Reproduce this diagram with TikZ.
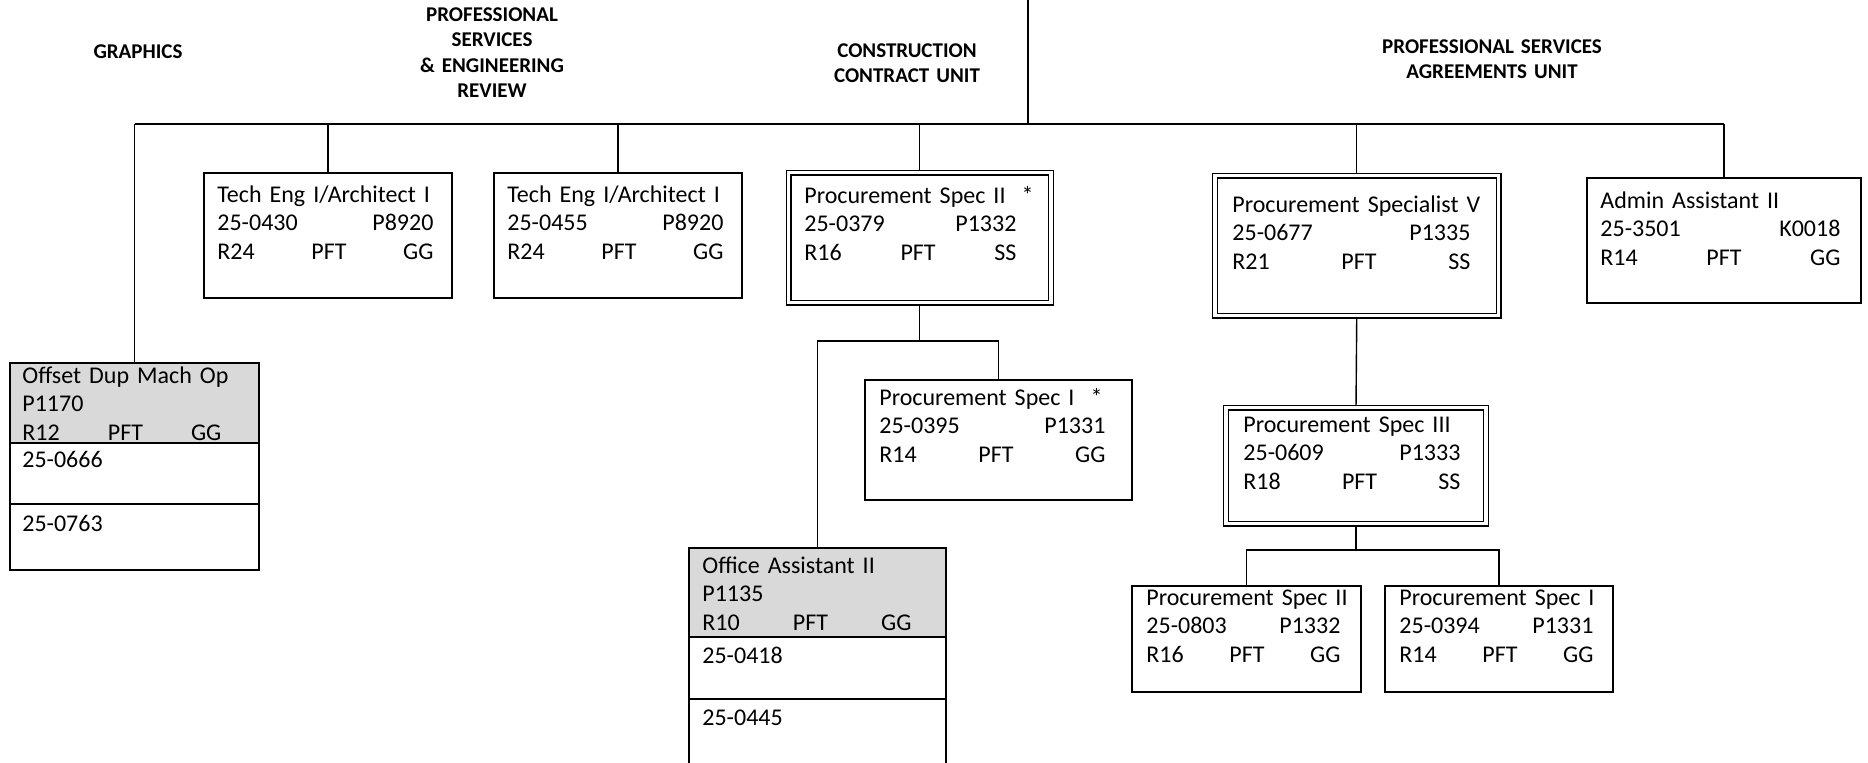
\documentclass[tikz,border=0pt]{standalone}
\usepackage{fontspec}
\setmainfont{Carlito}
\usetikzlibrary{positioning,backgrounds}
\definecolor{headgray}{RGB}{217,217,217}
\tikzset{
  pbox/.style={draw, rectangle, anchor=north west, inner sep=0pt, outer sep=0pt, line width=0.7pt, fill=white},
  dbox/.style={pbox, double, double distance=1.8pt, line width=0.6pt},
  ptext/.style={anchor=base west, inner sep=0pt, align=left, font=\fontsize{12pt}{14.25pt}\selectfont},
  unit/.style={anchor=base, inner sep=0pt, text width=160pt, align=center, font=\bfseries\fontsize{10.5pt}{12.67pt}\selectfont},
  link/.style={line width=0.7pt}
}
\begin{document}
\begin{tikzpicture}[x=0.5pt, y=-0.5pt]
\useasboundingbox (0,0) rectangle (1868,762);
\clip (0,0) rectangle (1868,762);

% Units
\node[unit] (grp) at (138,58.5) {GRAPHICS};
\node[unit] (pse) at (492,21.5) {PROFESSIONAL\\SERVICES\\\& ENGINEERING\\REVIEW};
\node[unit] (ccu) at (907,57.5) {CONSTRUCTION\\CONTRACT UNIT};
\node[unit] (psa) at (1492,53.5) {PROFESSIONAL SERVICES\\AGREEMENTS UNIT};

% Positions, first row
\node[pbox, minimum width=124pt, minimum height=62.5pt] (te1) at (204,173) {};
\node[pbox, minimum width=124pt, minimum height=62.5pt] (te2) at (494,173) {};
\node[dbox, minimum width=131.25pt, minimum height=65pt] (ps2) at (788.5,172.5) {};
\node[dbox, minimum width=141.75pt, minimum height=70pt] (psv) at (1215,175.5) {};
\node[pbox, minimum width=137pt, minimum height=62.5pt] (adm) at (1587,178) {};

% Positions, lower rows
\node[pbox, fill=headgray, minimum width=124.5pt, minimum height=40pt] (off) at (10,363) {};
\node[pbox, minimum width=124.5pt, minimum height=30.5pt, below=0pt of off] (offa) {};
\node[pbox, minimum width=124.5pt, minimum height=33pt, below=0pt of offa] (offb) {};

\node[pbox, minimum width=133.5pt, minimum height=60pt] (ps1) at (865,380) {};
\node[pbox, fill=headgray, minimum width=128.5pt, minimum height=44.5pt] (oa) at (689,548) {};
\node[pbox, minimum width=128.5pt, minimum height=31pt, below=0pt of oa] (oaa) {};
\node[pbox, minimum width=128.5pt, minimum height=45.5pt, below=0pt of oaa] (oab) {};

\node[dbox, minimum width=130pt, minimum height=58pt] (ps3) at (1226,407.5) {};
\node[pbox, minimum width=114.5pt, minimum height=53pt] (pb2) at (1132,586) {};
\node[pbox, minimum width=114pt, minimum height=53pt] (pb1) at (1385,586) {};

% Texts
\node[ptext, text width=108pt] (te1t) at (217,202) {\mbox{Tech Eng I/Architect I}\\25-0430\hfill P8920\\R24\hfill PFT\hfill GG};
\node[ptext, text width=108pt] (te2t) at (507,202) {\mbox{Tech Eng I/Architect I}\\25-0455\hfill P8920\\R24\hfill PFT\hfill GG};
\node[ptext, text width=106pt] (ps2t) at (804,203) {\mbox{Procurement Spec II\ \ *}\\25-0379\hfill P1332\\R16\hfill PFT\hfill SS};
\node[ptext, text width=119pt] (psvt) at (1232,212) {\mbox{Procurement Specialist V}\\25-0677\hfill P1335\\R21\hfill PFT\hfill SS};
\node[ptext, text width=120pt] (admt) at (1600,208) {\mbox{Admin Assistant II}\\25-3501\hfill K0018\\R14\hfill PFT\hfill GG};

\node[ptext, text width=99.5pt] (offt) at (22,383) {\mbox{Offset Dup Mach Op}\\P1170\\R12\hfill PFT\hfill GG};
\node[ptext] (offat) at (22,467) {25-0666};
\node[ptext] (offbt) at (22,531) {25-0763};

\node[ptext, text width=113pt] (ps1t) at (879,405) {\mbox{Procurement Spec I\ \ *}\\25-0395\hfill P1331\\R14\hfill PFT\hfill GG};
\node[ptext, text width=104.5pt] (oat) at (702,573) {\mbox{Office Assistant II}\\P1135\\R10\hfill PFT\hfill GG};
\node[ptext] (oaat) at (702,663) {25-0418};
\node[ptext] (oabt) at (702,725) {25-0445};

\node[ptext, text width=108.5pt] (ps3t) at (1243,432) {\mbox{Procurement Spec III}\\25-0609\hfill P1333\\R18\hfill PFT\hfill SS};
\node[ptext, text width=97pt] (pb2t) at (1146,605) {\mbox{Procurement Spec II}\\25-0803\hfill P1332\\R16\hfill PFT\hfill GG};
\node[ptext, text width=97pt] (pb1t) at (1399,605) {\mbox{Procurement Spec I}\\25-0394\hfill P1331\\R14\hfill PFT\hfill GG};

% Lines
\begin{scope}[on background layer]
\coordinate (top) at (1028,0);
\coordinate (bus) at (0,124);
\coordinate (split1) at (0,341);
\coordinate (split2) at (0,550);
\draw[link] (top) -- (top |- bus);
\draw[link] (off.north |- bus) -- (adm.north |- bus);
\foreach \n in {off,te1,te2,ps2,psv,adm}
  \draw[link] (\n.north |- bus) -- (\n.north);
\draw[link] (ps2.south) -- (ps2.south |- split1);
\draw[link] (oa.north) |- (split1 -| ps1.north) -- (ps1.north);
\draw[link] (psv.south) -- (ps3.north);
\draw[link] (ps3.south) -- (ps3.south |- split2);
\draw[link] (pb2.north) |- (split2 -| pb1.north) -- (pb1.north);
\end{scope}
\end{tikzpicture}
\end{document}
